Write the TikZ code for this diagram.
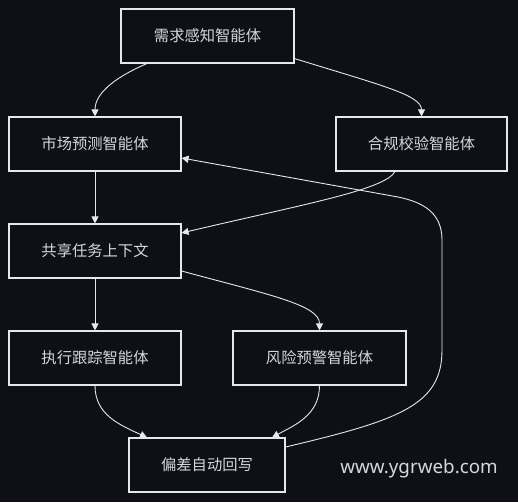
\documentclass[tikz,border=0pt]{standalone}
\usepackage{fontspec}
\setmainfont{Noto Sans CJK SC}
\newfontfamily\wmfont{Noto Sans}
\usetikzlibrary{arrows.meta}
\definecolor{bgc}{RGB}{13,16,23}
\definecolor{fgc}{RGB}{232,232,232}
\definecolor{txc}{RGB}{215,215,215}
\begin{document}
\begin{tikzpicture}[x=1pt,y=-1pt,
  box/.style={draw=fgc,fill=bgc,line width=1.1pt,minimum height=54pt,inner sep=0pt,
    text=txc,font=\fontsize{15.3}{18}\selectfont},
  conn/.style={draw=fgc,line width=0.9pt,-{Triangle[length=7pt,width=7pt]}}]
\fill[bgc] (0,0) rectangle (518,502);
\useasboundingbox (0,0) rectangle (518,502);
\node[box,minimum width=173pt] (A) at (207.5,36) {需求感知智能体};
\node[box,minimum width=172pt] (B) at (95,144) {市场预测智能体};
\node[box,minimum width=171pt] (C) at (421.5,144) {合规校验智能体};
\node[box,minimum width=172pt] (D) at (95,251) {共享任务上下文};
\node[box,minimum width=172pt] (E) at (95,358) {执行跟踪智能体};
\node[box,minimum width=173pt] (F) at (319.5,358) {风险预警智能体};
\node[box,minimum width=156pt] (G) at (207,465) {偏差自动回写};
\node[text=txc,font=\wmfont\fontsize{18.8}{22}\selectfont] (W) at (419,469) {www.ygrweb.com};
\draw[conn] ([xshift=-60.5pt]A.south) .. controls (118,76) and (95,92) .. (B.north);
\draw[conn] ([yshift=5pt]A.south east) .. controls (380,85) and (421.5,95) .. (C.north);
\draw[conn] (B.south) -- (D.north);
\draw[conn] ([xshift=-26.5pt]C.south) .. controls (385,190) and (300,205) .. ([yshift=18pt]D.east);
\draw[conn] (D.south) -- (E.north);
\draw[conn] ([yshift=-20pt]D.east) .. controls (270,295) and (319.5,305) .. (F.north);
\draw[conn] (E.south) .. controls (95,415) and (120,425) .. ([xshift=-60pt]G.north);
\draw[conn] (F.south) .. controls (319.5,415) and (295,425) .. ([xshift=65pt]G.north);
\draw[conn] ([yshift=18pt]G.east) .. controls (400,420) and (442,405) .. (442,350) -- (442,240)
  .. controls (442,212) and (422,202) .. (398,197) -- ([yshift=-14pt]B.east);
\end{tikzpicture}
\end{document}
